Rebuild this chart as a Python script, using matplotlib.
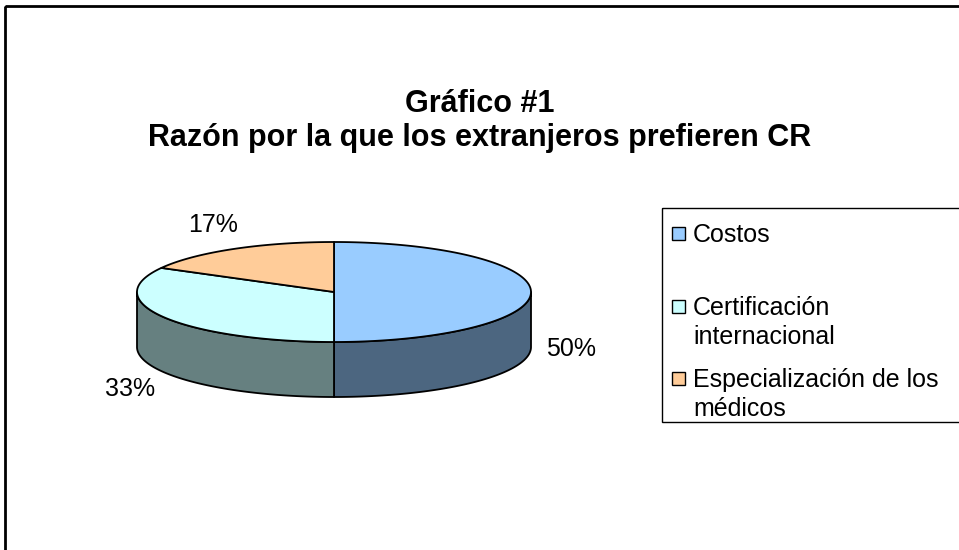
import numpy as np
import matplotlib
matplotlib.use("Agg")
import matplotlib.pyplot as plt
from matplotlib.patches import Polygon, Rectangle

plt.rcParams['font.family'] = ['Liberation Sans', 'DejaVu Sans']

# data
categories = ['Costos', 'Certificación\ninternacional', 'Especialización de los\nmédicos']
values = [50, 33, 17]
top_colors = ['#99CCFF', '#CCFFFF', '#FFCC99']
side_colors = ['#4C6680', '#668080', '#806650']
title = 'Gráfico #1\nRazón por la que los extranjeros prefieren CR'

# pie geometry (pixel units, y down)
cx, cy = 334, 292
a, b = 197, 50
depth = 55

fig = plt.figure(figsize=(9.59, 5.5), dpi=100)
ax = fig.add_axes([0, 0, 1, 1])
ax.set_xlim(0, 959)
ax.set_ylim(550, 0)
ax.axis('off')

# chart area border (runs off the right and bottom)
ax.add_patch(Rectangle((5, 6), 1100, 700, fill=False, lw=2, ec='black'))


def rim(t, dy=0):
    t = np.radians(t)
    return np.column_stack([cx + a * np.cos(t), cy - b * np.sin(t) + dy])


total = float(sum(values))
spans = [v / total * 360 for v in values]
starts = 90 - np.concatenate([[0], np.cumsum(spans)[:-1]])

# sides first
for i, (st, sp) in enumerate(zip(starts, spans)):
    lo, hi = st - sp, st
    for n in (-1, 0, 1):
        f_lo, f_hi = max(lo, -180 + 360 * n), min(hi, 360 * n)
        if f_hi > f_lo:
            t = np.linspace(f_lo, f_hi, 120)
            pts = np.vstack([rim(t), rim(t[::-1], depth)])
            ax.add_patch(Polygon(pts, closed=True, fc=side_colors[i],
                                 ec='black', lw=1.3, joinstyle='round'))

# top faces
for i, (st, sp) in enumerate(zip(starts, spans)):
    t = np.linspace(st, st - sp, 200)
    pts = np.vstack([[cx, cy], rim(t)])
    ax.add_patch(Polygon(pts, closed=True, fc=top_colors[i],
                         ec='black', lw=1.3, joinstyle='round'))

# percentage labels
for i, (st, sp) in enumerate(zip(starts, spans)):
    mid = np.radians(st - sp / 2)
    lx = cx + (a + 40) * np.cos(mid)
    ly = cy - (b + 28) * np.sin(mid)
    if np.sin(mid) <= 1e-9:
        ly += depth + 2
    ax.text(lx, ly, '%d%%' % round(values[i] / total * 100),
            ha='center', va='center', fontsize=18)

# title
ax.text(480, 121, title, ha='center', va='center', fontsize=22,
        fontweight='bold', linespacing=1.15)

# legend
ax.add_patch(Rectangle((662, 208), 400, 214, fill=False, lw=1, ec='black'))
first_base = [242, 315, 387]
line_gap = 29
for i, lab in enumerate(categories):
    y = first_base[i]
    nl = lab.count('\n')
    ax.add_patch(Rectangle((672, y - 15), 13, 13, fc=top_colors[i],
                           ec='black', lw=1))
    ax.text(693, y + nl * line_gap, lab, ha='left', va='baseline',
            fontsize=18, linespacing=1.26)

fig.savefig('out.png', dpi=100)
